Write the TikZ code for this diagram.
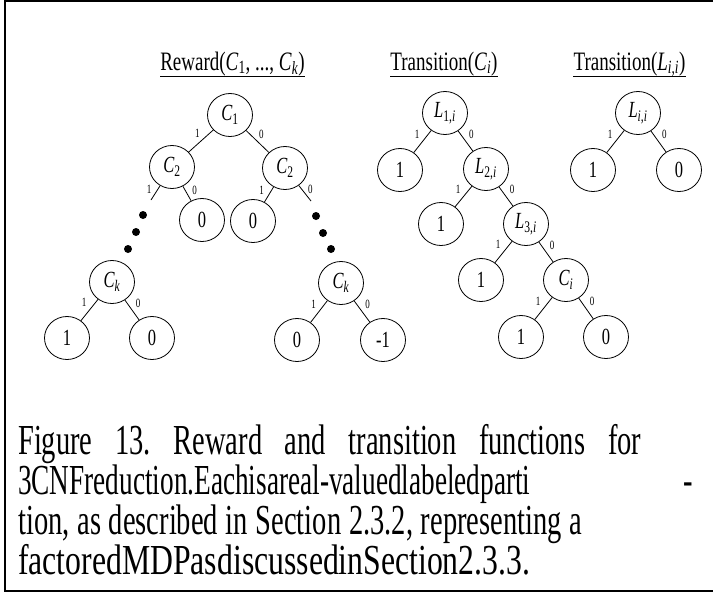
\documentclass[tikz,border=0pt]{standalone}
\usepackage{graphicx}
\usepackage{fontspec}
\setmainfont{Liberation Serif}
\usetikzlibrary{shapes.geometric}
\frenchspacing
\newcommand{\stt}[1]{\scalebox{1}[1.4]{#1}}
\newcommand{\capl}[1]{\scalebox{1}[1.5]{#1}}
\newcommand{\Cv}[1]{\textit{C}\textsubscript{#1}}
\newcommand{\Lv}[1]{\textit{L}\textsubscript{#1}}
\tikzset{
  tn/.style={ellipse, draw, line width=0.8pt, minimum width=45pt, minimum height=43pt, inner sep=0pt, font=\fontsize{16.5}{16.5}\selectfont},
  el/.style={font=\fontsize{9}{9}\selectfont, inner sep=0pt},
  edgeline/.style={line width=0.8pt},
  blackdot/.style={circle, fill=black, inner sep=0pt, minimum size=8pt},
  ttl/.style={font=\fontsize{19}{19}\selectfont, inner sep=0pt, anchor=base},
  capline/.style={font=\fontsize{28.5}{28.5}\selectfont, inner sep=0pt, anchor=base west},
  frameline/.style={line width=2pt},
}
\begin{document}
\begin{tikzpicture}[x=1pt,y=-1pt]
\useasboundingbox (0,0) rectangle (713,592);
\fill[white] (0,0) rectangle (713,592);
% frame
\coordinate (f1) at (716,1);
\coordinate (f2) at (5,1);
\coordinate (f3) at (5,590.7);
\coordinate (f4) at (716,590.7);
\draw[frameline] (f1) -- (f2) -- (f3) -- (f4);

% titles
\node[ttl] (tr) at (232.5,70) {\stt{Reward(\Cv{1}, ..., \Cv{\textit{k}})}};
\node[ttl] (tc) at (444,70) {\stt{Transition(\Cv{\textit{i}})}};
\node[ttl] (tl) at (629.5,70) {\stt{Transition(\Lv{\textit{i},\textit{i}})}};
\draw[line width=0.8pt] ([yshift=-6pt]tr.base west) -- ([yshift=-6pt]tr.base east);
\draw[line width=0.8pt] ([yshift=-6pt]tc.base west) -- ([yshift=-6pt]tc.base east);
\draw[line width=0.8pt] ([yshift=-6pt]tl.base west) -- ([yshift=-6pt]tl.base east);

% Reward tree
\node[tn] (C1) at (230,115) {\stt{\Cv{1}}};
\node[tn] (C2a) at (172,167) {\stt{\Cv{2}}};
\node[tn] (C2b) at (285,168) {\stt{\Cv{2}}};
\node[tn] (Z1) at (202,220) {\stt{0}};
\node[tn] (Z2) at (253,221) {\stt{0}};
\coordinate (ea) at (151,200);
\coordinate (eb) at (311,201);
\node[blackdot] (da1) at (143,215) {};
\node[blackdot] (da2) at (136,232) {};
\node[blackdot] (da3) at (128,249) {};
\node[blackdot] (db1) at (316,216) {};
\node[blackdot] (db2) at (323,233) {};
\node[blackdot] (db3) at (331,249) {};
\node[tn] (Cka) at (112,282) {\stt{\Cv{\textit{k}}}};
\node[tn] (Ra1) at (67,338) {\stt{1}};
\node[tn] (Ra0) at (152,338) {\stt{0}};
\node[tn] (Ckb) at (341,283) {\stt{\Cv{\textit{k}}}};
\node[tn] (Rb0) at (297,340) {\stt{0}};
\node[tn] (Rbm) at (383,340) {\stt{-1}};

\draw[edgeline] (C1) -- node[el,pos=.25,left=7pt,yshift=2pt]{\stt{1}} (C2a);
\draw[edgeline] (C1) -- node[el,pos=.25,right=7pt,yshift=2pt]{\stt{0}} (C2b);
\draw[edgeline] (C2a) -- node[el,pos=.25,left=6pt]{\stt{1}} (ea);
\draw[edgeline] (C2a) -- node[el,pos=.25,right=7pt]{\stt{0}} (Z1);
\draw[edgeline] (C2b) -- node[el,pos=.25,left=7pt]{\stt{1}} (Z2);
\draw[edgeline] (C2b) -- node[el,pos=.25,right=6pt]{\stt{0}} (eb);
\draw[edgeline] (Cka) -- node[el,pos=.25,left=7pt,yshift=2pt]{\stt{1}} (Ra1);
\draw[edgeline] (Cka) -- node[el,pos=.25,right=7pt,yshift=2pt]{\stt{0}} (Ra0);
\draw[edgeline] (Ckb) -- node[el,pos=.25,left=7pt,yshift=2pt]{\stt{1}} (Rb0);
\draw[edgeline] (Ckb) -- node[el,pos=.25,right=7pt,yshift=2pt]{\stt{0}} (Rbm);

% Transition(C_i)
\node[tn] (L1) at (445,113) {\stt{\Lv{1,\textit{i}}}};
\node[tn] (T1) at (400,170) {\stt{1}};
\node[tn] (L2) at (486,169) {\stt{\Lv{2,\textit{i}}}};
\node[tn] (T2) at (441,224) {\stt{1}};
\node[tn] (L3) at (526,224) {\stt{\Lv{3,\textit{i}}}};
\node[tn] (T3) at (481,280) {\stt{1}};
\node[tn] (Ci) at (566,280) {\stt{\Cv{\textit{i}}}};
\node[tn] (T4) at (521,337) {\stt{1}};
\node[tn] (T5) at (606,337) {\stt{0}};
\draw[edgeline] (L1) -- node[el,pos=.25,left=7pt,yshift=2pt]{\stt{1}} (T1);
\draw[edgeline] (L1) -- node[el,pos=.25,right=7pt,yshift=2pt]{\stt{0}} (L2);
\draw[edgeline] (L2) -- node[el,pos=.25,left=7pt,yshift=2pt]{\stt{1}} (T2);
\draw[edgeline] (L2) -- node[el,pos=.25,right=7pt,yshift=2pt]{\stt{0}} (L3);
\draw[edgeline] (L3) -- node[el,pos=.25,left=7pt,yshift=2pt]{\stt{1}} (T3);
\draw[edgeline] (L3) -- node[el,pos=.25,right=7pt,yshift=2pt]{\stt{0}} (Ci);
\draw[edgeline] (Ci) -- node[el,pos=.25,left=7pt,yshift=2pt]{\stt{1}} (T4);
\draw[edgeline] (Ci) -- node[el,pos=.25,right=7pt,yshift=2pt]{\stt{0}} (T5);

% Transition(L_{i,i})
\node[tn] (Li) at (638,113) {\stt{\Lv{\textit{i},\textit{i}}}};
\node[tn] (U1) at (593,170) {\stt{1}};
\node[tn] (U0) at (679,170) {\stt{0}};
\draw[edgeline] (Li) -- node[el,pos=.25,left=7pt,yshift=2pt]{\stt{1}} (U1);
\draw[edgeline] (Li) -- node[el,pos=.25,right=7pt,yshift=2pt]{\stt{0}} (U0);

% caption
\node[capline] (cap1) at (18,454) {\capl{\makebox[623pt][s]{Figure 13. Reward and transition functions for}}};
\node[capline] (cap2) at (18,494) {\capl{\resizebox{512pt}{\height}{3CNFreduction.Eachisareal-valuedlabeledparti}}};
\node[capline] (cap2b) at (683,494) {\capl{-}};
\node[capline] (cap3) at (18,534) {\capl{\makebox[564pt][s]{tion, as described in Section 2.3.2, representing a}}};
\node[capline] (cap4) at (18,574) {\capl{\resizebox{512pt}{\height}{factoredMDPasdiscussedinSection2.3.3.}}};
\end{tikzpicture}
\end{document}
